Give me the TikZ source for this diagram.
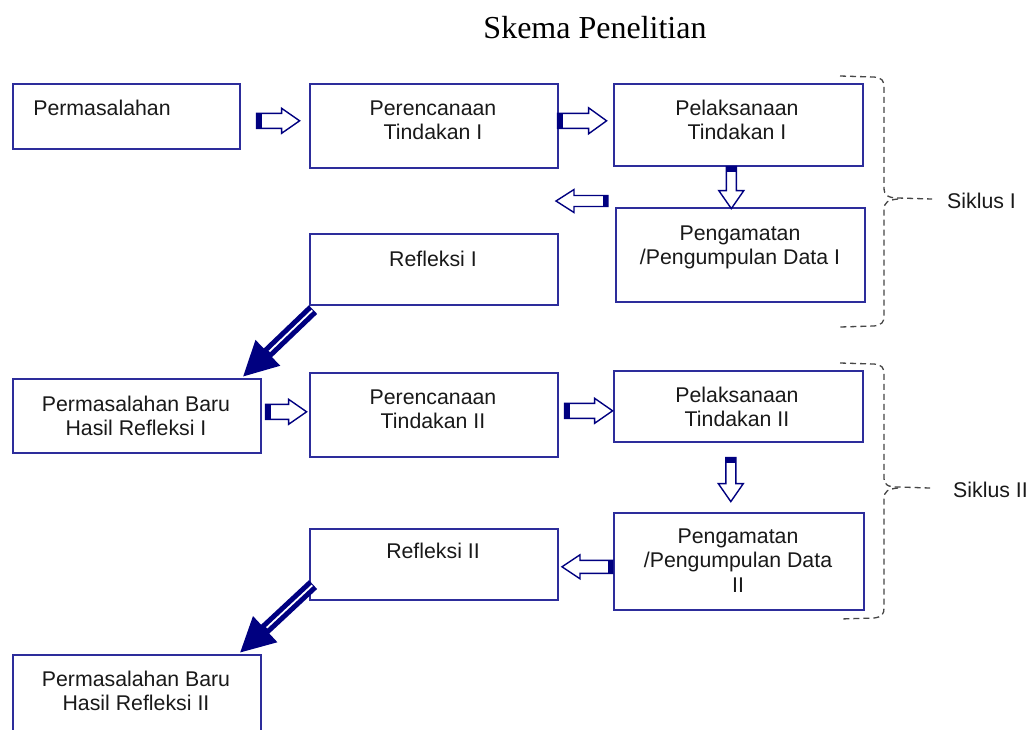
\documentclass[tikz,border=0pt]{standalone}
\usepackage{fontspec}
\setmainfont{Liberation Sans}
\newfontfamily\titlefont{Liberation Serif}
\usetikzlibrary{calc,arrows.meta}
\definecolor{boxc}{RGB}{45,45,155}
\definecolor{navyc}{RGB}{0,0,128}
\definecolor{bracec}{RGB}{70,70,70}
\tikzset{
  box/.style={draw=boxc, line width=1.6pt, rectangle, inner sep=0pt, anchor=north west},
  lbl/.style={font=\fontsize{21.3}{24.5}\selectfont, align=center, anchor=base, inner sep=0pt, text=black!90},
  blk/.style={draw=navyc, fill=white, line width=1.4pt, line join=miter},
  diag/.style={draw=navyc, line width=12pt, -{Triangle[length=35pt,width=33pt]}},
  diagin/.style={draw=white, line width=1.8pt, shorten >=37pt, shorten <=1pt},
  brc/.style={draw=bracec, dash pattern=on 6pt off 4pt, line width=1.3pt},
}
\newcommand{\mkbox}[5]{\node[box, minimum width={#4-#2}, minimum height={#5-#3}] (#1) at (#2,#3) {};}
% #1 start, #2 angle, #3 length, #4 shaft half width, #5 head half width
\newcommand{\blkarrow}[5]{%
\begin{scope}[shift={#1},rotate=#2]
\path[blk] (0,-#4) -- ({#3-18},-#4) -- ({#3-18},-#5) -- (#3,0) -- ({#3-18},#5) -- ({#3-18},#4) -- (0,#4) -- cycle;
\fill[navyc] (0,-#4) rectangle (5,#4);
\end{scope}}
\begin{document}
\begin{tikzpicture}[x=1pt,y=-1pt]
\useasboundingbox (0,0) rectangle (1032,729);
\clip (0,0) rectangle (1032,729);
\fill[white] (0,0) rectangle (1032,729);

\node[font=\titlefont\fontsize{32}{38}\selectfont, anchor=base, inner sep=0pt] (title) at (595,38) {Skema Penelitian};

% boxes
\mkbox{b1}{12}{83}{239}{148}
\mkbox{b2}{309}{83}{557}{167}
\mkbox{b3}{613}{83}{862}{165}
\mkbox{b4}{615}{207}{864}{301}
\mkbox{b5}{309}{233}{557}{304}
\mkbox{b6}{12}{378}{260}{452}
\mkbox{b7}{309}{372}{557}{456}
\mkbox{b8}{613}{370}{862}{441}
\mkbox{b9}{613}{512}{863}{609}
\mkbox{b10}{309}{528}{557}{599}
\mkbox{b11}{12}{654}{260}{745}

% texts (anchor base = baseline of last line)
\node[lbl] (t1) at (102,115) {Permasalahan};
\node[lbl] (t2) at (433,139.5) {Perencanaan\\Tindakan I};
\node[lbl] (t3) at (737,139.5) {Pelaksanaan\\Tindakan I};
\node[lbl] (t4) at (740,264.5) {Pengamatan\\/Pengumpulan Data I};
\node[lbl] (t5) at (433,266) {Refleksi I};
\node[lbl] (t6) at (136,435.5) {Permasalahan Baru\\Hasil Refleksi I};
\node[lbl] (t7) at (433,428.5) {Perencanaan\\Tindakan II};
\node[lbl] (t8) at (737,426.5) {Pelaksanaan\\Tindakan II};
\node[lbl] (t9) at (738,592) {Pengamatan\\/Pengumpulan Data\\II};
\node[lbl] (t10) at (433,558) {Refleksi II};
\node[lbl] (t11) at (136,710.5) {Permasalahan Baru\\Hasil Refleksi II};

% block arrows
\blkarrow{($(b1.east)+(16,4.5)$)}{0}{43}{7.5}{12.5}
\blkarrow{($(b2.east)+(-1,-5)$)}{0}{49}{7.5}{13}
\blkarrow{($(b3.south)+(-7,0)$)}{-90}{42}{5}{12.5}
\blkarrow{($(b4.north west)+(-7,-6)$)}{180}{52}{5.5}{11.5}
\blkarrow{($(b6.east)+(4,-4)$)}{0}{41}{7.5}{12.5}
\blkarrow{($(b7.east)+(6,-4)$)}{0}{48}{7.5}{12.5}
\blkarrow{($(b8.south)+(-7.5,15)$)}{-90}{44}{5}{12.5}
\blkarrow{($(b9.west)+(0,5.5)$)}{180}{51}{6.5}{12}

% diagonal arrows
\coordinate (d1s) at ($(b5.south west)+(4,4)$);
\coordinate (d1e) at ($(b6.north east)+(-19,-1)$);
\draw[diag] (d1s) -- (d1e);
\draw[diagin] (d1s) -- (d1e);
\coordinate (d2s) at ($(b10.south west)+(4,-16)$);
\coordinate (d2e) at ($(b11.north east)+(-22,-1)$);
\draw[diag] (d2s) -- (d2e);
\draw[diagin] (d2s) -- (d2e);

% braces
\node[lbl, anchor=base west] (s1) at (947,208) {Siklus I};
\node[lbl, anchor=base west] (s2) at (953,497) {Siklus II};
\draw[brc] (840,76) -- (874,77) .. controls (882,78) and (884,80) .. (884,88) -- (884,188)
  .. controls (884,195) and (888,198) .. (898,198) -- (932,199);
\draw[brc] (898,199) .. controls (888,200) and (884,202) .. (884,210) -- (884,316)
  .. controls (884,322) and (882,325) .. (874,326) -- (840,327);
\draw[brc] (840,363) -- (874,364) .. controls (882,365) and (884,367) .. (884,375) -- (884,478)
  .. controls (884,485) and (888,487) .. (898,487) -- (930,488);
\draw[brc] (898,488) .. controls (888,489) and (884,491) .. (884,499) -- (884,608)
  .. controls (884,614) and (882,617) .. (874,618) -- (840,619);
\end{tikzpicture}
\end{document}
